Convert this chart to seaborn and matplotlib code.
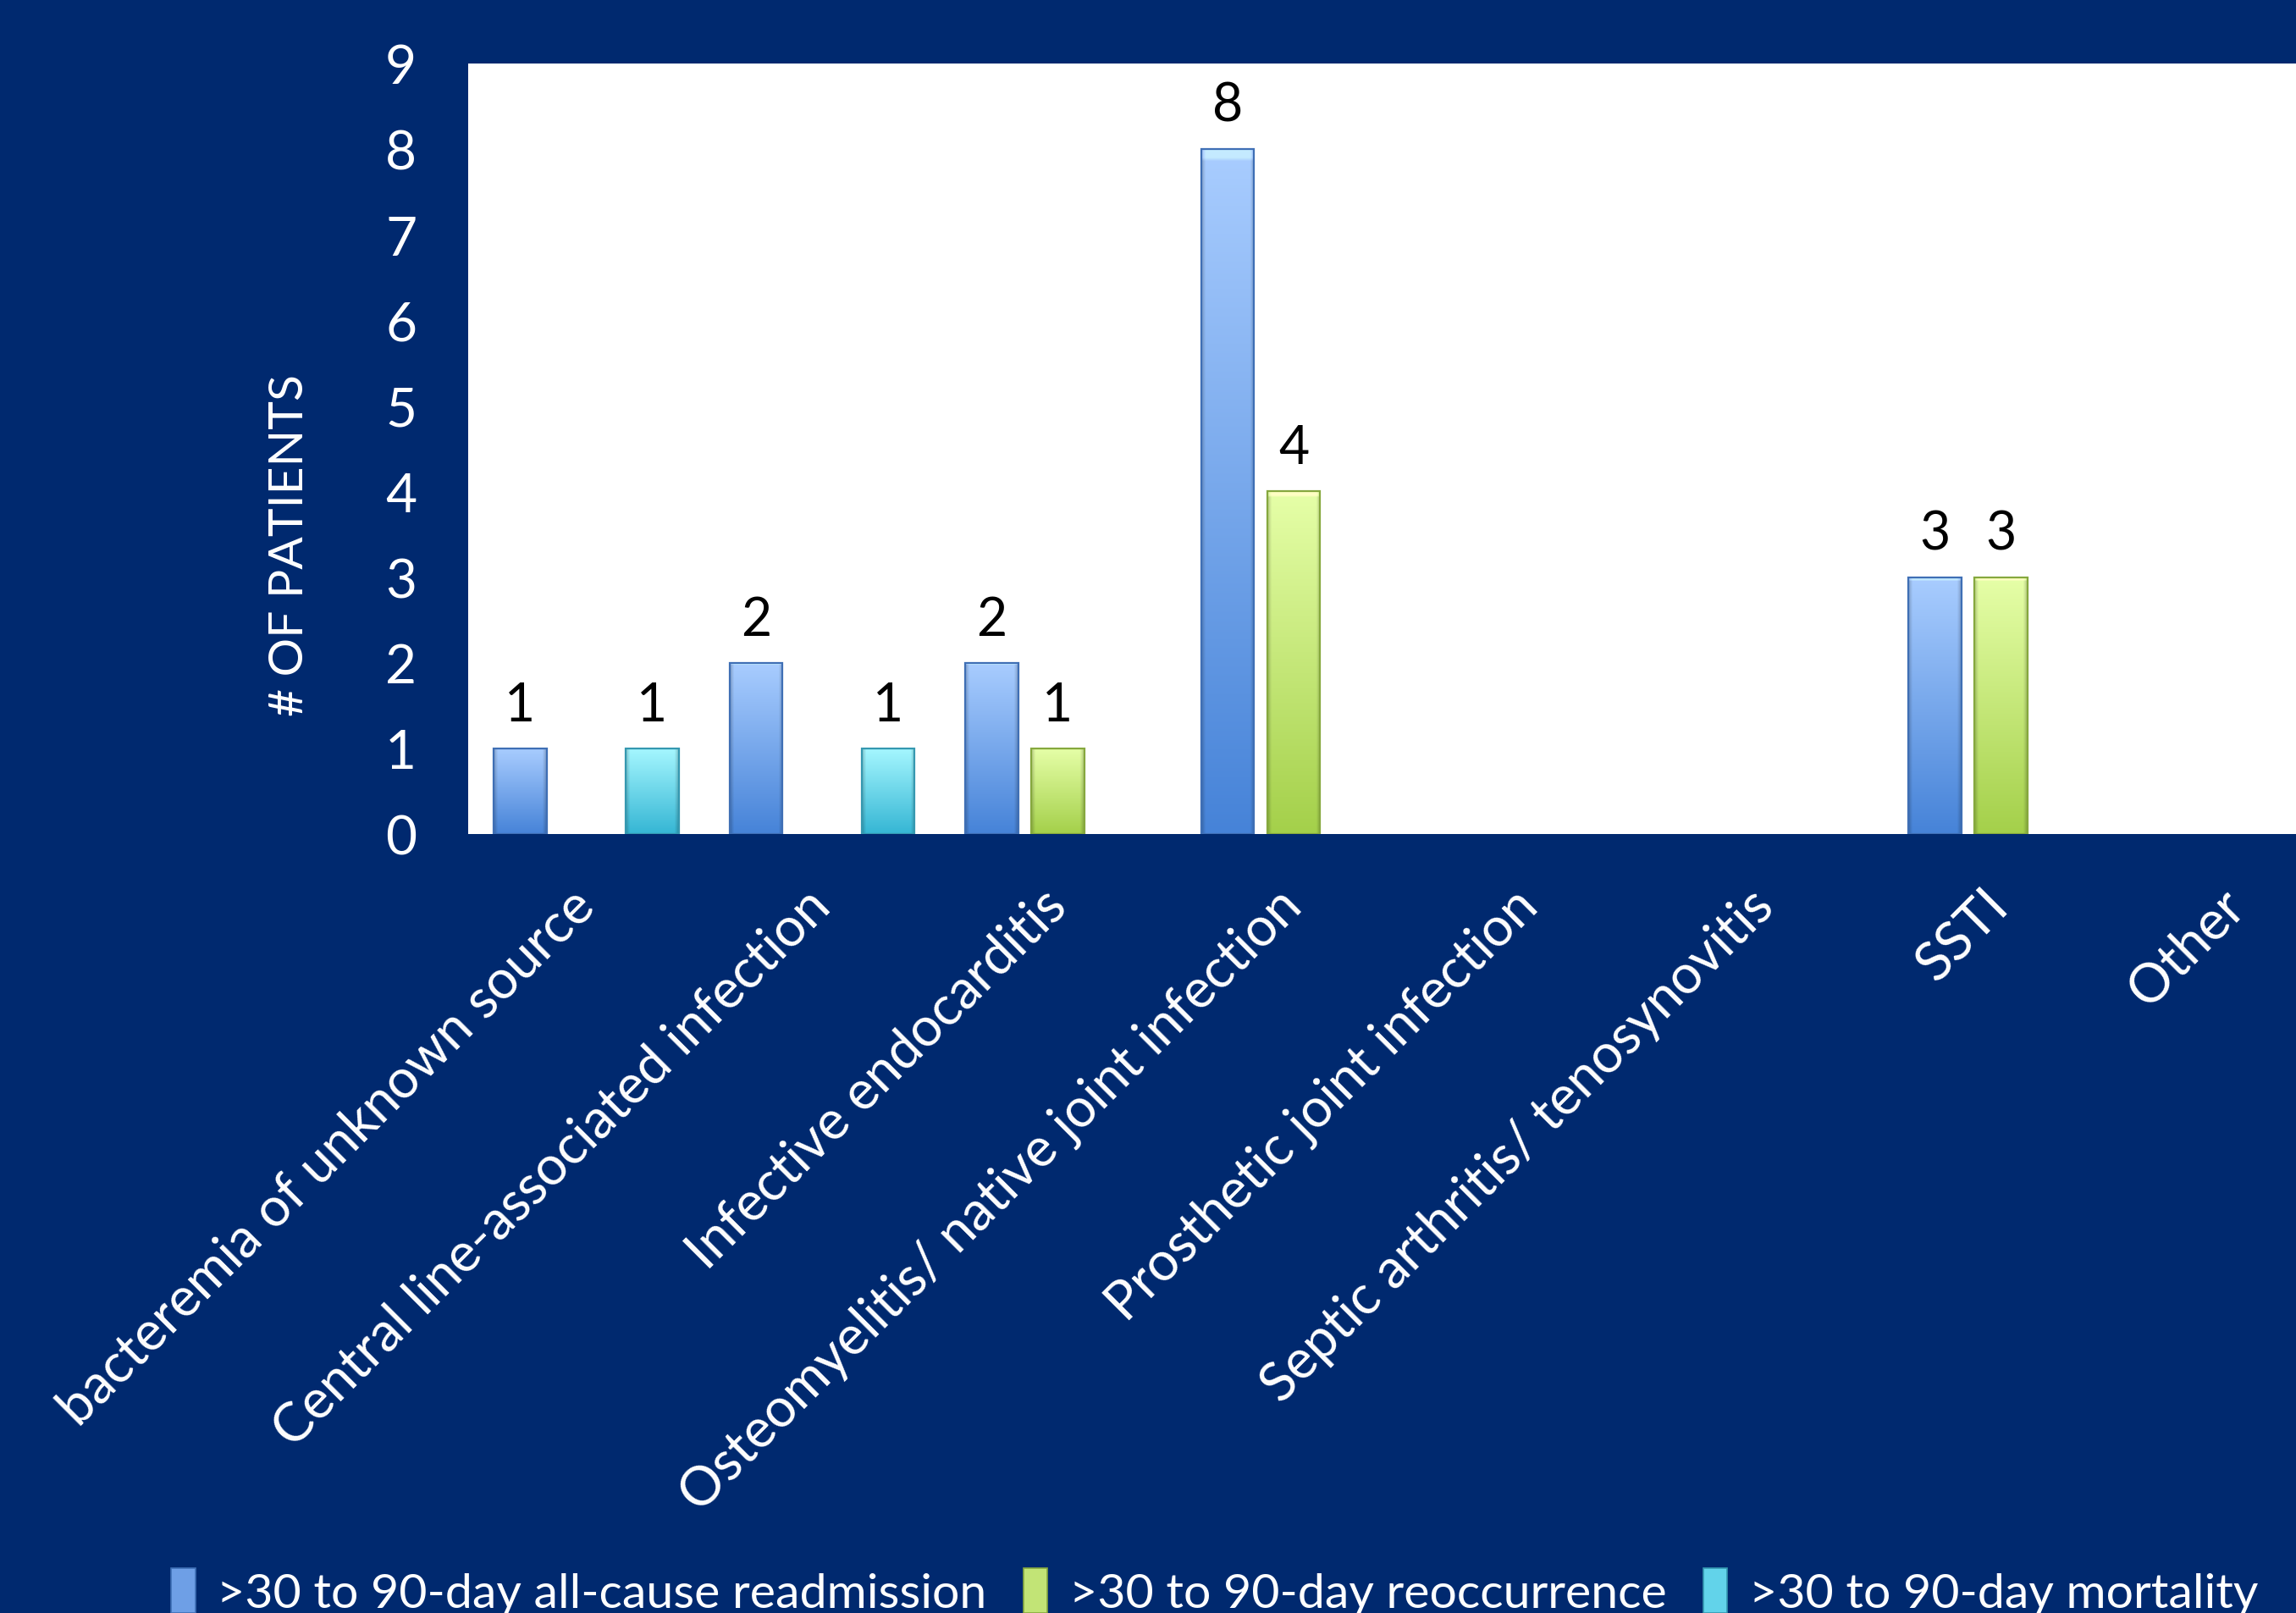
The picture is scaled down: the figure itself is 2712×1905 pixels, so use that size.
import numpy as np
import pandas as pd
import matplotlib
matplotlib.use("Agg")
import matplotlib.pyplot as plt
import seaborn as sns
from matplotlib.colors import to_rgb
from matplotlib.patches import Patch

categories = [
    "bacteremia of unknown source",
    "Central line-associated infection",
    "Infective endocarditis",
    "Osteomyelitis/ native joint infection",
    "Prosthetic joint infection",
    "Septic arthritis/ tenosynovitis",
    "SSTI",
    "Other",
]
series = [
    ">30 to 90-day all-cause readmission",
    ">30 to 90-day reoccurrence",
    ">30 to 90-day mortality",
]
readmission = [1, 2, 2, 8, 0, 0, 3, 0]
reoccurrence = [0, 0, 1, 4, 0, 0, 3, 0]
mortality = [1, 1, 0, 0, 0, 0, 0, 0]
yticks = list(range(10))
ylabel = "# OF PATIENTS"

BG = "#00296F"
flat = {series[0]: "#6E9FE6", series[1]: "#C2E476", series[2]: "#62D3EA"}
edge = {series[0]: "#3F6FB5", series[1]: "#86A83E", series[2]: "#3598B0"}
grad = {
    series[0]: ("#A9CDFF", "#4683D8"),
    series[1]: ("#E6FFA8", "#A4D04A"),
    series[2]: ("#A6F7FF", "#35B6D4"),
}

df = pd.DataFrame({
    "category": categories * 3,
    "series": np.repeat(series, len(categories)),
    "count": readmission + reoccurrence + mortality,
})

sns.set_theme(style="white")
plt.rcParams["font.family"] = ["Lato", "DejaVu Sans"]

fig = plt.figure(figsize=(13.56, 9.53), dpi=200, facecolor=BG)
ax = fig.add_axes([0.204, 0.4827, 0.8216, 0.4775])
ax.set_facecolor("white")

sns.barplot(data=df, x="category", y="count", hue="series", order=categories,
            hue_order=series, palette=flat, width=0.84, gap=0.2, ax=ax,
            legend=False, linewidth=0, errorbar=None)


def grad_img(top, bot, n=200, m=40):
    t = np.linspace(0, 1, n)[:, None, None]
    top = np.array(to_rgb(top)); bot = np.array(to_rgb(bot))
    img = top * (1 - t) + bot * t
    img = np.repeat(img, m, axis=1)
    xs = np.linspace(0, 1, m)
    e = np.clip(np.minimum(xs, 1 - xs) / 0.07, 0, 1)
    shade = 0.80 + 0.20 * e
    img = img * shade[None, :, None]
    img[:3] = np.clip(img[:3] * 1.06 + 0.07, 0, 1)
    return np.clip(img, 0, 1)


for cont, s in zip(ax.containers, series):
    for p in cont.patches:
        h = p.get_height()
        if h <= 0:
            continue
        x0, w = p.get_x(), p.get_width()
        ax.imshow(grad_img(*grad[s]), extent=[x0, x0 + w, 0, h], aspect="auto",
                  origin="upper", zorder=p.get_zorder() + 0.1, interpolation="bilinear")
        p.set_edgecolor(edge[s]); p.set_linewidth(0.8); p.set_fill(False)
        p.set_zorder(p.get_zorder() + 0.2)
    labels = [str(int(v)) if v > 0 else "" for v in cont.datavalues]
    ax.bar_label(cont, labels=labels, padding=8, fontsize=22.5, color="black")

ax.set_xlim(-0.5, len(categories) - 0.5)
ax.set_ylim(0, 9)
ax.set_yticks(yticks)
ax.tick_params(axis="y", colors="white", labelsize=23, length=0, pad=22)
ax.tick_params(axis="x", colors="white", labelsize=23, length=0, pad=27)
for lab in ax.get_xticklabels():
    lab.set_rotation(45)
    lab.set_rotation_mode("anchor")
    lab.set_ha("right")
    lab.set_va("center")
ax.set_xlabel("")
ax.set_ylabel(ylabel, color="white", fontsize=20.5)
ax.yaxis.set_label_coords(-0.083, 0.376)
for sp in ax.spines.values():
    sp.set_visible(False)

handles = [Patch(facecolor=flat[s], edgecolor=edge[s], linewidth=0.6) for s in series]
leg = fig.legend(handles, series, loc="center", bbox_to_anchor=(0.529, 0.013), ncol=3,
                 frameon=False, fontsize=20.6, handlelength=0.5, handleheight=1.05,
                 handletextpad=0.45, columnspacing=0.75)
for t in leg.get_texts():
    t.set_color("white")

fig.savefig("out.png", dpi=200, facecolor=BG)
